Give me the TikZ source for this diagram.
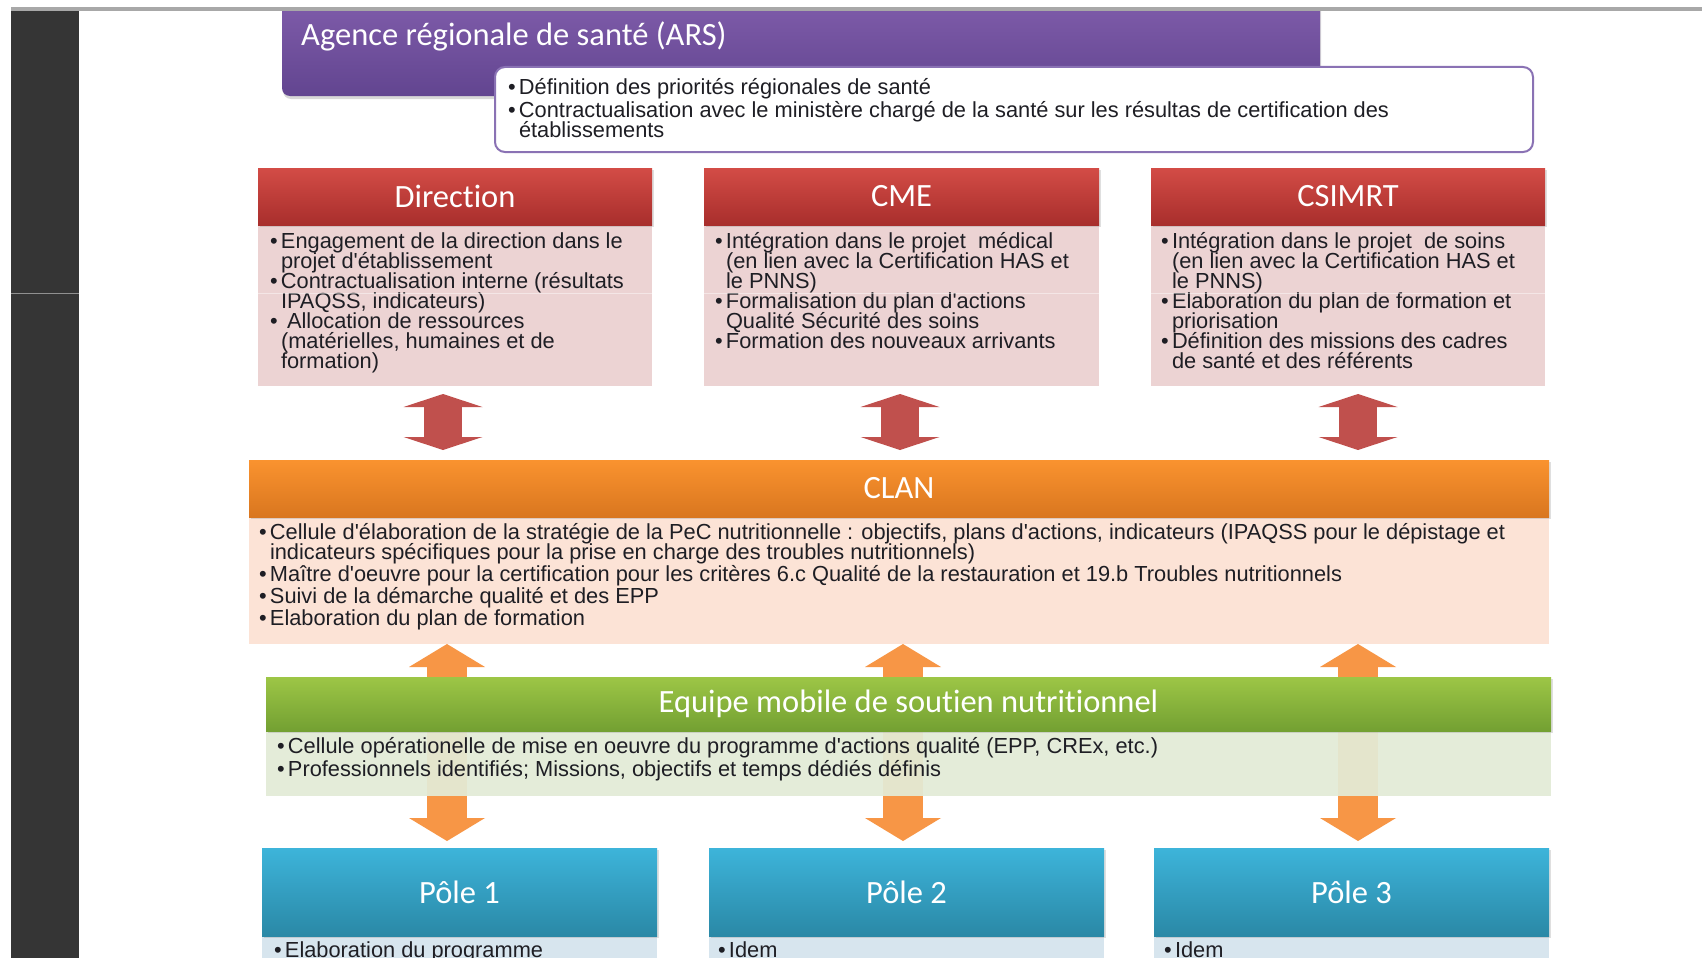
\documentclass[tikz,border=0pt]{standalone}
\usepackage{fontspec}
\setmainfont{Liberation Sans}
\newfontfamily\ttlfont{Carlito}[Ligatures={NoCommon}]
\usetikzlibrary{arrows.meta,shadows}
\definecolor{darkbar}{HTML}{353535}
\definecolor{topbar}{HTML}{A8A8A8}
\definecolor{purT}{HTML}{7F5CAA}
\definecolor{purB}{HTML}{624590}
\definecolor{purBorder}{HTML}{8A72B4}
\definecolor{redT}{HTML}{D34C46}
\definecolor{redB}{HTML}{A82E2C}
\definecolor{redBody}{HTML}{ECD3D3}
\definecolor{redArr}{HTML}{C0504D}
\definecolor{oraT}{HTML}{FA932F}
\definecolor{oraB}{HTML}{D9761F}
\definecolor{oraBody}{HTML}{FCE3D6}
\definecolor{oraArr}{HTML}{F79646}
\definecolor{grnT}{HTML}{9DC646}
\definecolor{grnB}{HTML}{73A032}
\definecolor{grnBody}{HTML}{E3EBD7}
\definecolor{bluT}{HTML}{3DB4DA}
\definecolor{bluB}{HTML}{2A88A6}
\definecolor{bluBody}{HTML}{D7E5EE}
\definecolor{txtc}{HTML}{1E1E24}
\newcommand{\bul}{\makebox[11pt][l]{•}}
\newcommand{\ind}{\hspace*{11pt}}
\newcommand{\ap}{\textquotesingle}
\newcommand{\blines}[1]{\vtop{\baselineskip=20pt\lineskiplimit=-100pt\lineskip=0pt\halign{##\hfil\cr#1\crcr}}}
\tikzset{
  hdr/.style={anchor=north west, inner sep=0pt, outer sep=0pt, text=white,
    font=\ttlfont\fontsize{32.5}{36}\selectfont,
    drop shadow={opacity=0.25, shadow xshift=1.5pt, shadow yshift=-2pt}},
  redhdr/.style={hdr, top color=redT, bottom color=redB},
  orahdr/.style={hdr, top color=oraT, bottom color=oraB},
  grnhdr/.style={hdr, top color=grnT, bottom color=grnB},
  bluhdr/.style={hdr, top color=bluT, bottom color=bluB},
  bodyb/.style={anchor=north west, inner sep=0pt, outer sep=0pt},
  txt/.style={anchor=base west, inner sep=0pt, outer sep=0pt, text=txtc,
    font=\fontsize{21.8}{20}\selectfont},
  redarr/.style={draw=redArr, line width=38pt,
    {Triangle[width=79pt,length=13pt,line width=0pt]}-{Triangle[width=79pt,length=13pt,line width=0pt]}},
  oraarr/.style={draw=oraArr, line width=40pt,
    {Triangle[width=76pt,length=23pt,line width=0pt]}-{Triangle[width=76pt,length=23pt,line width=0pt]}}
}
\begin{document}
\begin{tikzpicture}[x=1pt,y=-1pt]
\path[use as bounding box] (0,0) rectangle (1702,958);
\clip (0,0) rectangle (1702,958);
\fill[white] (0,0) rectangle (1702,958);
% ARS
\node[anchor=north west, inner sep=0pt, outer sep=0pt, rounded corners=8pt,
  top color=purT, bottom color=purB, minimum width=1038pt, minimum height=96pt,
  drop shadow={opacity=0.3, shadow xshift=1pt, shadow yshift=-3pt}] (ars) at (282,0) {};
\fill[white] (0,0) rectangle (1702,7);
\fill[topbar] (11,7) rectangle (1702,11);
\fill[darkbar] (11,11) rectangle (79,958);
\node[anchor=west, inner sep=0pt, text=white, font=\ttlfont\fontsize{32.5}{36}\selectfont] (arstitle) at (301,36) {Agence régionale de santé (ARS)};
\node[anchor=north west, inner sep=0pt, outer sep=0pt, draw=purBorder, line width=2pt, fill=white,
  rounded corners=10pt, minimum width=1038pt, minimum height=85pt] (arsbox) at (495,67) {};
\node[txt] (arstext) at (508,94.5) {\blines{%
\bul Définition des priorités régionales de santé\cr\noalign{\vskip3pt}
\bul Contractualisation avec le ministère chargé de la santé sur les résultas de certification des\cr
\ind établissements}};
% Direction / CME / CSIMRT
\node[bodyb, fill=redBody, minimum width=394pt, minimum height=161pt] (dirbody) at (258,225) {};
\node[redhdr, minimum width=394pt, minimum height=57pt] (dirhead) at (258,168) {Direction};
\node[bodyb, fill=redBody, minimum width=395pt, minimum height=161pt] (cmebody) at (704,225) {};
\node[redhdr, minimum width=395pt, minimum height=57pt] (cmehead) at (704,168) {CME};
\node[bodyb, fill=redBody, minimum width=394pt, minimum height=161pt] (csibody) at (1151,225) {};
\node[redhdr, minimum width=394pt, minimum height=57pt] (csihead) at (1151,168) {CSIMRT};
\node[txt] (dirtext) at (270,248.5) {\blines{%
\bul Engagement de la direction dans le\cr
\ind projet d\ap établissement\cr
\bul Contractualisation interne (résultats\cr
\ind IPAQSS, indicateurs)\cr
\bul\ Allocation de ressources\cr
\ind (matérielles, humaines et de\cr
\ind formation)}};
\node[txt] (cmetext) at (715,248.5) {\blines{%
\bul Intégration dans le projet\ \ médical\cr
\ind (en lien avec la Certification HAS et\cr
\ind le PNNS)\cr
\bul Formalisation du plan d\ap actions\cr
\ind Qualité Sécurité des soins\cr
\bul Formation des nouveaux arrivants}};
\node[txt] (csitext) at (1161,248.5) {\blines{%
\bul Intégration dans le projet\ \ de soins\cr
\ind (en lien avec la Certification HAS et\cr
\ind le PNNS)\cr
\bul Elaboration du plan de formation et\cr
\ind priorisation\cr
\bul Définition des missions des cadres\cr
\ind de santé et des référents}};
% faint scan line
\draw[white, opacity=0.45, line width=1pt] (11,293) -- (1545,293);
% CLAN
\node[bodyb, fill=oraBody, minimum width=1300pt, minimum height=127pt] (clanbody) at (249,517) {};
\node[orahdr, minimum width=1300pt, minimum height=57pt] (clanhead) at (249,460) {CLAN};
\node[txt] (clantext) at (259,539.5) {\blines{%
\bul Cellule d\ap élaboration de la stratégie de la PeC nutritionnelle : objectifs, plans d\ap actions, indicateurs (IPAQSS pour le dépistage et\cr
\ind indicateurs spécifiques pour la prise en charge des troubles nutritionnels)\cr\noalign{\vskip2pt}
\bul Maître d\ap oeuvre pour la certification pour les critères 6.c Qualité de la restauration et 19.b Troubles nutritionnels\cr\noalign{\vskip2pt}
\bul Suivi de la démarche qualité et des EPP\cr\noalign{\vskip2pt}
\bul Elaboration du plan de formation}};
% red arrows
\coordinate (ax1) at (443,0);
\coordinate (ax2) at (900,0);
\coordinate (ax3) at (1358,0);
\draw[redarr, shorten <=8pt, shorten >=10pt] (dirbody.south -| ax1) -- (clanhead.north -| ax1);
\draw[redarr, shorten <=8pt, shorten >=10pt] (cmebody.south -| ax2) -- (clanhead.north -| ax2);
\draw[redarr, shorten <=8pt, shorten >=10pt] (csibody.south -| ax3) -- (clanhead.north -| ax3);
% Poles
\node[bodyb, fill=bluBody, minimum width=395pt, minimum height=40pt] (p1body) at (262,936) {};
\node[bluhdr, minimum width=395pt, minimum height=88pt] (p1head) at (262,848) {Pôle 1};
\node[bodyb, fill=bluBody, minimum width=395pt, minimum height=40pt] (p2body) at (709,936) {};
\node[bluhdr, minimum width=395pt, minimum height=88pt] (p2head) at (709,848) {Pôle 2};
\node[bodyb, fill=bluBody, minimum width=395pt, minimum height=40pt] (p3body) at (1154,936) {};
\node[bluhdr, minimum width=395pt, minimum height=88pt] (p3head) at (1154,848) {Pôle 3};
\node[txt] (p1text) at (274,957.5) {\bul Elaboration du programme};
\node[txt] (p2text) at (718,957.5) {\bul Idem};
\node[txt] (p3text) at (1164,957.5) {\bul Idem};
% orange arrows (behind Equipe box)
\coordinate (bx1) at (447,0);
\coordinate (bx2) at (903,0);
\coordinate (bx3) at (1358,0);
\draw[oraarr, shorten >=7pt] (clanbody.south -| bx1) -- (p1head.north -| bx1);
\draw[oraarr, shorten >=7pt] (clanbody.south -| bx2) -- (p2head.north -| bx2);
\draw[oraarr, shorten >=7pt] (clanbody.south -| bx3) -- (p3head.north -| bx3);
% Equipe mobile
\node[bodyb, fill=grnBody, fill opacity=0.93, minimum width=1285pt, minimum height=65pt] (eqbody) at (266,731) {};
\node[grnhdr, minimum width=1285pt, minimum height=54pt] (eqhead) at (266,677) {Equipe mobile de soutien nutritionnel};
\node[txt] (eqtext) at (277,753.5) {\blines{%
\bul Cellule opérationelle de mise en oeuvre du programme d\ap actions qualité (EPP, CREx, etc.)\cr\noalign{\vskip3pt}
\bul Professionnels identifiés; Missions, objectifs et temps dédiés définis}};
\end{tikzpicture}
\end{document}
